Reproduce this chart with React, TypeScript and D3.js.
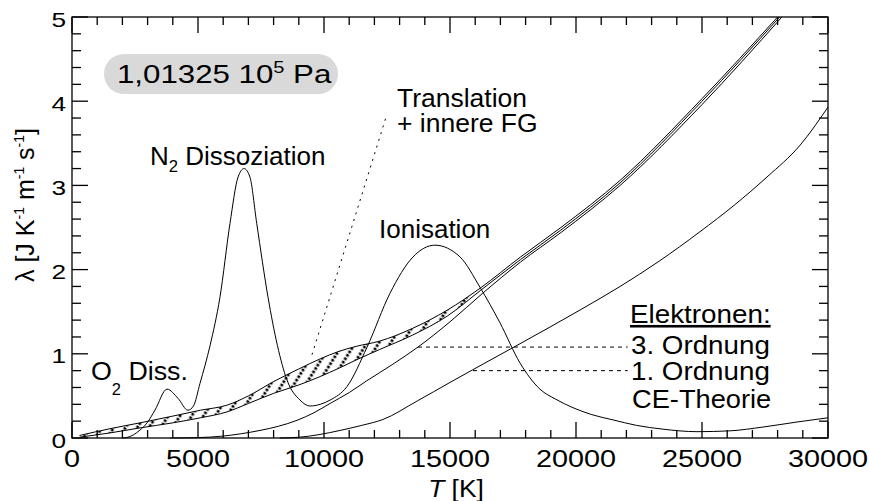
import React from "react";
import * as d3 from "d3";

// ---- data (T in K, lambda in J K^-1 m^-1 s^-1) ----
const TOTAL_T = [1980, 2180, 2700, 2980, 3290, 3770, 4210, 4600, 4820, 5080, 5480, 5870, 6270, 6590, 6830, 7060, 7330, 7780, 8150, 8530, 9050, 9440, 9850, 10240, 10910, 11710, 12620, 13530, 14400, 15400, 16190, 16980, 17780, 18570, 19200, 19880, 20600, 21470, 22400, 23450, 24800, 26110, 27420, 28770, 30000];
const TOTAL_L = [0, 0.006, 0.095, 0.18, 0.33, 0.58, 0.47, 0.33, 0.38, 0.65, 1.1, 1.67, 2.55, 3.1, 3.2, 3.1, 2.55, 1.67, 1.1, 0.69, 0.45, 0.38, 0.4, 0.45, 0.61, 1.08, 1.72, 2.15, 2.29, 2.15, 1.79, 1.37, 0.89, 0.58, 0.46, 0.36, 0.28, 0.215, 0.15, 0.105, 0.075, 0.085, 0.13, 0.19, 0.24];

// upper band line (Translation + innere FG), continues into the total bundle
const UPPER_T = [300, 1500, 2700, 4000, 5100, 6150, 7000, 8000, 9000, 9850, 10600, 11300, 12200, 13500, 14900, 16200, 17800, 19400, 21750, 25000, 28000];
const UPPER_L = [0.03, 0.11, 0.18, 0.26, 0.33, 0.39, 0.5, 0.67, 0.82, 0.94, 1.03, 1.09, 1.15, 1.3, 1.52, 1.78, 2.15, 2.5, 3.06, 4.03, 5.0];
// lower band line
const LOWER_T = [300, 1500, 2700, 4000, 5100, 6150, 7000, 8000, 9000, 9850, 10600, 11300, 12200, 13500, 14900, 16200, 17800, 19400, 21750, 25000, 28080];
const LOWER_L = [0.01, 0.06, 0.12, 0.18, 0.24, 0.31, 0.41, 0.53, 0.63, 0.73, 0.83, 0.93, 1.05, 1.22, 1.45, 1.75, 2.12, 2.47, 3.03, 4.0, 5.0];
// total incl. electrons 3. Ordnung
const THIRD_T = [3900, 5000, 5900, 6700, 7460, 8200, 8930, 9600, 10240, 11000, 11700, 12700, 13730, 15000, 16300, 17800, 19400, 21750, 25000, 28170];
const THIRD_L = [0, 0.005, 0.02, 0.05, 0.09, 0.14, 0.21, 0.3, 0.41, 0.54, 0.68, 0.87, 1.08, 1.38, 1.72, 2.09, 2.44, 3.0, 3.96, 5.0];
// electrons 1. Ordnung
const FIRST_T = [8250, 9050, 9800, 10640, 11500, 12340, 13700, 15000, 15900, 17780, 20160, 21750, 23300, 24920, 26300, 27580, 28900, 30000];
const FIRST_L = [0, 0.01, 0.04, 0.09, 0.15, 0.22, 0.44, 0.66, 0.81, 1.12, 1.52, 1.8, 2.1, 2.45, 2.77, 3.1, 3.48, 3.93];

const X_TICKS = [0, 5000, 10000, 15000, 20000, 25000, 30000];
const Y_TICKS = [0, 1, 2, 3, 4, 5];

// leaders: [T0, L0, T1, L1]
const LEADER_THIRD = [13730, 1.08, 22050, 1.08];
const LEADER_FIRST = [15913, 0.8, 22050, 0.8];
const LEADER_TRANS = [9524, 0.99, 12460, 3.81];

const W = 869, H = 501;
const x = d3.scaleLinear().domain([0, 30000]).range([72, 828]);
const y = d3.scaleLinear().domain([0, 5]).range([438, 17]);

const FONT = "'Liberation Sans', Arial, Helvetica, sans-serif";

function zip(ts: number[], ls: number[]): [number, number][] {
  return ts.map((t, i) => [t, ls[i]]);
}
const line = d3
  .line<[number, number]>()
  .x((d) => x(d[0]))
  .y((d) => y(d[1]))
  .curve(d3.curveMonotoneX);

function Txt(props: any) {
  const { x: px, y: py, sx = 1, size = 24, anchor = "start", children, ...rest } = props;
  return (
    <text
      transform={`translate(${px},${py}) scale(${sx},1)`}
      fontSize={size}
      textAnchor={anchor}
      fontFamily={FONT}
      fill="#000"
      {...rest}
    >
      {children}
    </text>
  );
}

export default function App() {
  const uI = d3.scaleLinear().domain(UPPER_T).range(UPPER_L);
  const lI = d3.scaleLinear().domain(LOWER_T).range(LOWER_L);
  const bandT = UPPER_T.filter((t) => t <= 16200);
  const area = d3
    .area<number>()
    .x((t) => x(t))
    .y0((t) => y(lI(t)))
    .y1((t) => y(uI(t)))
    .curve(d3.curveMonotoneX);

  const xMinor = d3.range(0, 30001, 1000);
  const yMinor = d3.range(0, 5.001, 0.2);
  const x0 = x(0), x1 = x(30000), y0 = y(0), y1 = y(5);

  return (
    <svg width={W} height={H} style={{ position: "absolute", left: 0, top: 0, background: "#fff" }}>
      <defs>
        <pattern id="hatch" patternUnits="userSpaceOnUse" width="10" height="12" patternTransform="rotate(32)">
          <line x1="3" y1="0" x2="3" y2="12" stroke="#000" strokeWidth="2.8" strokeDasharray="2.5 1.5" />
        </pattern>
      </defs>

      {/* pressure pill */}
      <rect x={104} y={54} width={234} height={40} rx={20} ry={20} fill="#d9d9d9" />
      <Txt x={117} y={83} size={25} sx={1.25}>
        1,01325 10<tspan fontSize={16} dy={-10}>5</tspan>
        <tspan dy={10}> Pa</tspan>
      </Txt>

      {/* band */}
      <path d={area(bandT) || ""} fill="url(#hatch)" stroke="none" />

      {/* curves */}
      <g fill="none" stroke="#000" strokeWidth={1}>
        <path d={line(zip(UPPER_T, UPPER_L)) || ""} />
        <path d={line(zip(LOWER_T, LOWER_L)) || ""} />
        <path d={line(zip(THIRD_T, THIRD_L)) || ""} />
        <path d={line(zip(FIRST_T, FIRST_L)) || ""} />
        <path d={line(zip(TOTAL_T, TOTAL_L)) || ""} />
      </g>

      {/* leaders */}
      <g fill="none" stroke="#000" strokeWidth={1}>
        <line x1={x(LEADER_THIRD[0])} y1={y(LEADER_THIRD[1])} x2={x(LEADER_THIRD[2])} y2={y(LEADER_THIRD[3])} strokeDasharray="4 4" />
        <line x1={x(LEADER_FIRST[0])} y1={y(LEADER_FIRST[1])} x2={x(LEADER_FIRST[2])} y2={y(LEADER_FIRST[3])} strokeDasharray="4 4" />
        <line x1={x(LEADER_TRANS[0])} y1={y(LEADER_TRANS[1])} x2={x(LEADER_TRANS[2])} y2={y(LEADER_TRANS[3])} strokeDasharray="2 5" />
      </g>

      {/* axes frame and ticks */}
      <g stroke="#000" strokeWidth={1.3} fill="none">
        <rect x={x0} y={y1} width={x1 - x0} height={y0 - y1} />
        {xMinor.map((t) => {
          const len = t % 5000 === 0 ? 16 : 8;
          return (
            <g key={"xt" + t}>
              <line x1={x(t)} x2={x(t)} y1={y0} y2={y0 - len} />
              <line x1={x(t)} x2={x(t)} y1={y1} y2={y1 + len} />
            </g>
          );
        })}
        {yMinor.map((v, i) => {
          const len = i % 5 === 0 ? 16 : 9;
          return (
            <g key={"yt" + i}>
              <line x1={x0} x2={x0 + len} y1={y(v)} y2={y(v)} />
              <line x1={x1} x2={x1 - len} y1={y(v)} y2={y(v)} />
            </g>
          );
        })}
      </g>

      {/* tick labels */}
      {X_TICKS.map((t) => (
        <Txt key={"xl" + t} x={x(t)} y={467} size={24} sx={1.2} anchor="middle">
          {String(t)}
        </Txt>
      ))}
      {Y_TICKS.map((v) => (
        <Txt key={"yl" + v} x={66} y={y(v) + 9.5} size={21} sx={1.25} anchor="end">
          {String(v)}
        </Txt>
      ))}

      {/* axis titles */}
      <Txt x={456} y={497} size={24} sx={1.1} anchor="middle">
        <tspan fontStyle="italic">T</tspan> [K]
      </Txt>
      <text transform="translate(34,205) rotate(-90)" fontSize={25} textAnchor="middle" fontFamily={FONT} fill="#000">
        λ [J K<tspan fontSize={14} dy={-10}>-1</tspan>
        <tspan dy={10}> m</tspan>
        <tspan fontSize={14} dy={-10}>-1</tspan>
        <tspan dy={10}> s</tspan>
        <tspan fontSize={14} dy={-10}>-1</tspan>
        <tspan dy={10}>]</tspan>
      </text>

      {/* annotations */}
      <Txt x={150} y={165} size={25} sx={1.04}>
        N<tspan fontSize={16} dy={7}>2</tspan>
        <tspan dy={-7}> Dissoziation</tspan>
      </Txt>
      <Txt x={91} y={380} size={26} sx={1.03}>
        O<tspan fontSize={16} dy={15}>2</tspan>
        <tspan dy={-15}> Diss.</tspan>
      </Txt>
      <Txt x={379} y={238} size={26} sx={1.0}>
        Ionisation
      </Txt>
      <Txt x={397} y={107} size={25} sx={1.06}>
        Translation
      </Txt>
      <Txt x={397} y={132} size={25} sx={1.06}>
        + innere FG
      </Txt>
      <Txt x={630} y={323} size={26} sx={1.07} textDecoration="underline">
        Elektronen:
      </Txt>
      <Txt x={631} y={354} size={25} sx={1.11}>
        3. Ordnung
      </Txt>
      <Txt x={631} y={380} size={25} sx={1.11}>
        1. Ordnung
      </Txt>
      <Txt x={632} y={408} size={25} sx={1.09}>
        CE-Theorie
      </Txt>
    </svg>
  );
}
